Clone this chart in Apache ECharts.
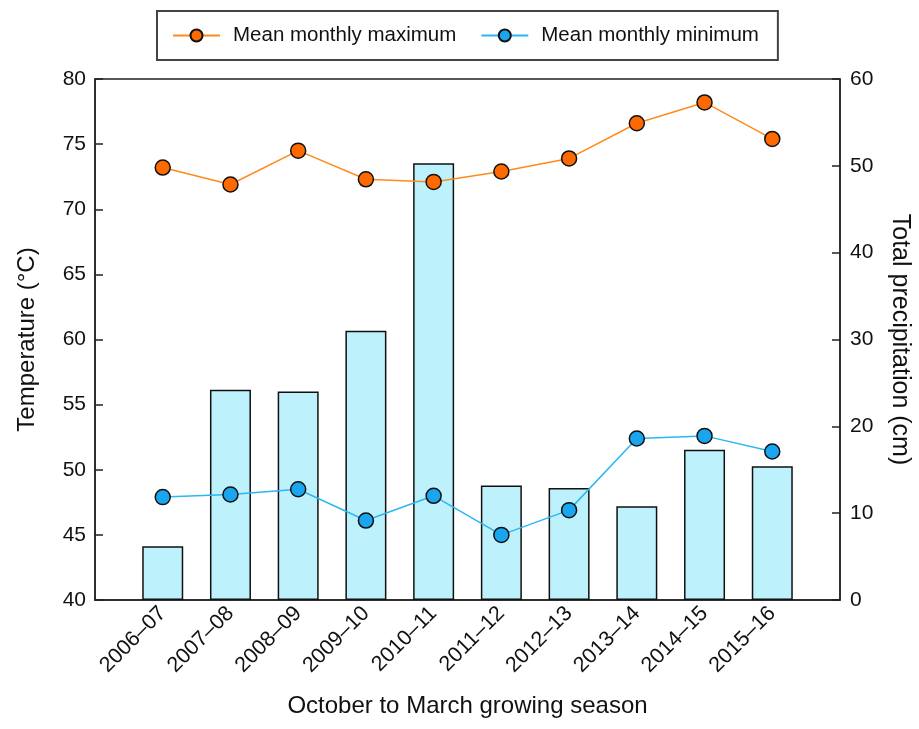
<!DOCTYPE html>
<html>
<head>
<meta charset="utf-8">
<script src="https://cdn.jsdelivr.net/npm/echarts@6/dist/echarts.min.js"></script>
<style>
  html, body { margin: 0; padding: 0; background: #fff; }
  #chart { width: 919px; height: 729px; }
</style>
</head>
<body>
<div id="chart"></div>
<script>
// seasons (blank slots at both ends give the padding seen in the original)
var seasons = ["", "2006–07", "2007–08", "2008–09", "2009–10", "2010–11",
  "2011–12", "2012–13", "2013–14", "2014–15", "2015–16", ""];
var precipitation = [null, 6.2, 24.2, 24.0, 31.0, 50.3, 13.2, 12.9, 10.8, 17.3, 15.4, null];
var tempMax = [null, 73.2, 71.9, 74.5, 72.3, 72.1, 72.9, 73.9, 76.6, 78.2, 75.4, null];
var tempMin = [null, 47.9, 48.1, 48.5, 46.1, 48.0, 45.0, 46.9, 52.4, 52.6, 51.4, null];

var font = "Liberation Sans, Arial, sans-serif";
var chart = echarts.init(document.getElementById("chart"));

var option = {
  animation: false,
  textStyle: { fontFamily: font },
  grid: {
    left: 95, right: 79, top: 79, bottom: 129,
    outerBoundsMode: "none",
    show: true, borderColor: "#222", borderWidth: 1.5
  },
  legend: {
    data: ["Mean monthly maximum", "Mean monthly minimum"],
    left: 157, top: 11,
    padding: [14, 19, 14, 15],
    itemGap: 24, itemWidth: 47, itemHeight: 15,
    borderColor: "#444", borderWidth: 2,
    textStyle: { fontSize: 20.5, color: "#111", fontFamily: font, padding: [0, 0, 0, 8] }
  },
  xAxis: {
    type: "category",
    data: seasons,
    boundaryGap: false,
    name: "October to March growing season",
    nameLocation: "middle",
    nameGap: 94,
    nameTextStyle: { fontSize: 24, color: "#111" },
    axisLine: { lineStyle: { color: "#222", width: 1.5 } },
    axisTick: {
      inside: true, length: 8, lineStyle: { color: "#222", width: 1.5 },
      interval: function (i, v) { return v !== ""; }
    },
    axisLabel: {
      rotate: 45, fontSize: 21.5, color: "#111", margin: 10, interval: 0
    }
  },
  yAxis: [
    {
      type: "value", min: 40, max: 80, interval: 5,
      name: "Temperature (°C)",
      nameLocation: "middle", nameGap: 56, nameRotate: 90,
      nameTextStyle: { fontSize: 24, color: "#111" },
      axisLine: { show: true, lineStyle: { color: "#222", width: 1.5 } },
      axisTick: { show: true, inside: true, length: 8, lineStyle: { color: "#222", width: 1.5 } },
      axisLabel: { fontSize: 21, color: "#111", margin: 9 },
      splitLine: { show: false }
    },
    {
      type: "value", min: 0, max: 60, interval: 10,
      name: "Total precipitation (cm)",
      nameLocation: "middle", nameGap: 47, nameRotate: -90,
      nameTextStyle: { fontSize: 25, color: "#111" },
      axisLine: { show: true, lineStyle: { color: "#222", width: 1.5 } },
      axisTick: { show: true, inside: true, length: 8, lineStyle: { color: "#222", width: 1.5 } },
      axisLabel: { fontSize: 21, color: "#111", margin: 10 },
      splitLine: { show: false }
    }
  ],
  series: [
    {
      name: "Total precipitation",
      type: "bar",
      yAxisIndex: 1,
      barWidth: 41,
      data: precipitation,
      itemStyle: { color: "#bdf1fc", borderColor: "#111", borderWidth: 1.5 },
      z: 1
    },
    {
      name: "Mean monthly maximum",
      type: "line",
      yAxisIndex: 0,
      data: tempMax,
      symbol: "circle",
      symbolSize: 15,
      lineStyle: { color: "#ff8a1c", width: 1.5 },
      itemStyle: { color: "#ff6a00", borderColor: "#111", borderWidth: 1.5 },
      z: 3
    },
    {
      name: "Mean monthly minimum",
      type: "line",
      yAxisIndex: 0,
      data: tempMin,
      symbol: "circle",
      symbolSize: 15,
      lineStyle: { color: "#2bb7f3", width: 1.5 },
      itemStyle: { color: "#1aa6ee", borderColor: "#111", borderWidth: 1.5 },
      z: 3
    }
  ]
};

chart.setOption(option);
</script>
</body>
</html>
